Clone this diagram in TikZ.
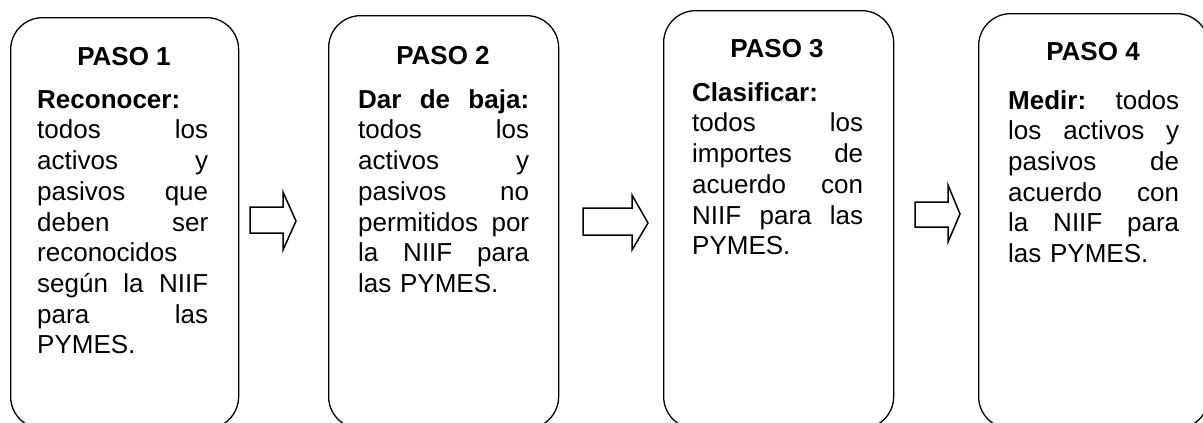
\documentclass[tikz,border=0pt]{standalone}
\usepackage{fontspec}
\setmainfont{Liberation Sans}
\begin{document}
\begin{tikzpicture}[x=1pt,y=-1pt,
  stepbox/.style={draw=black, line width=1.3pt, rounded corners=32pt, fill=white,
    inner sep=0pt, anchor=north west, minimum width=230pt},
  steptitle/.style={font=\fontsize{26}{30.7}\selectfont\bfseries, inner sep=0pt, anchor=base},
  stepbody/.style={font=\fontsize{26}{30.7}\selectfont, text width=171pt, align=left,
    inner sep=0pt, anchor=north west},
  blockarrow/.style={draw=black, line width=1.5pt, fill=white, line join=miter}]
\useasboundingbox (0,0) rectangle (1203,423);
\clip (0,0) rectangle (1203,423);

% boxes
\node[stepbox, minimum width=228pt, minimum height=411pt] (b1) at (10,17) {};
\node[stepbox, minimum height=413pt] (b2) at (328,15) {};
\node[stepbox, minimum height=418pt] (b3) at (663,10) {};
\node[stepbox, minimum height=415pt] (b4) at (978,13) {};

% titles
\node[steptitle] (h1) at (124,65) {PASO 1};
\node[steptitle] (h2) at (443,64) {PASO 2};
\node[steptitle] (h3) at (777,57) {PASO 3};
\node[steptitle] (h4) at (1093,60) {PASO 4};

% bodies
\node[stepbody] (t1) at (37,86) {\rule{0pt}{22pt}\textbf{Reconocer:}\\
todos\hfill los\\
activos\hfill y\\
pasivos\hfill que\\
deben\hfill ser\\
reconocidos\\
según\hfill la\hfill NIIF\\
para\hfill las\\
PYMES.};

\node[stepbody] (t2) at (358,86) {\rule{0pt}{22pt}\textbf{Dar\hfill de\hfill baja:}\\
todos\hfill los\\
activos\hfill y\\
pasivos\hfill no\\
permitidos\hfill por\\
la\hfill NIIF\hfill para\\
las PYMES.};

\node[stepbody] (t3) at (692,79) {\rule{0pt}{22pt}\textbf{Clasificar:}\\
todos\hfill los\\
importes\hfill de\\
acuerdo\hfill con\\
NIIF\hfill para\hfill las\\
PYMES.};

\node[stepbody] (t4) at (1008,87) {\rule{0pt}{22pt}\textbf{Medir:}\hfill todos\\
los\hfill activos\hfill y\\
pasivos\hfill de\\
acuerdo\hfill con\\
la\hfill NIIF\hfill para\\
las PYMES.};

% block arrows
\draw[blockarrow] (250,207) -- (283,207) -- (283,192) -- (296,221) -- (283,250) -- (283,233) -- (250,233) -- cycle;
\draw[blockarrow] (583,208) -- (632,208) -- (632,195) -- (648,223) -- (632,250) -- (632,235) -- (583,235) -- cycle;
\draw[blockarrow] (915,202) -- (948,202) -- (948,185) -- (960,214) -- (948,242) -- (948,227) -- (915,227) -- cycle;
\end{tikzpicture}
\end{document}
